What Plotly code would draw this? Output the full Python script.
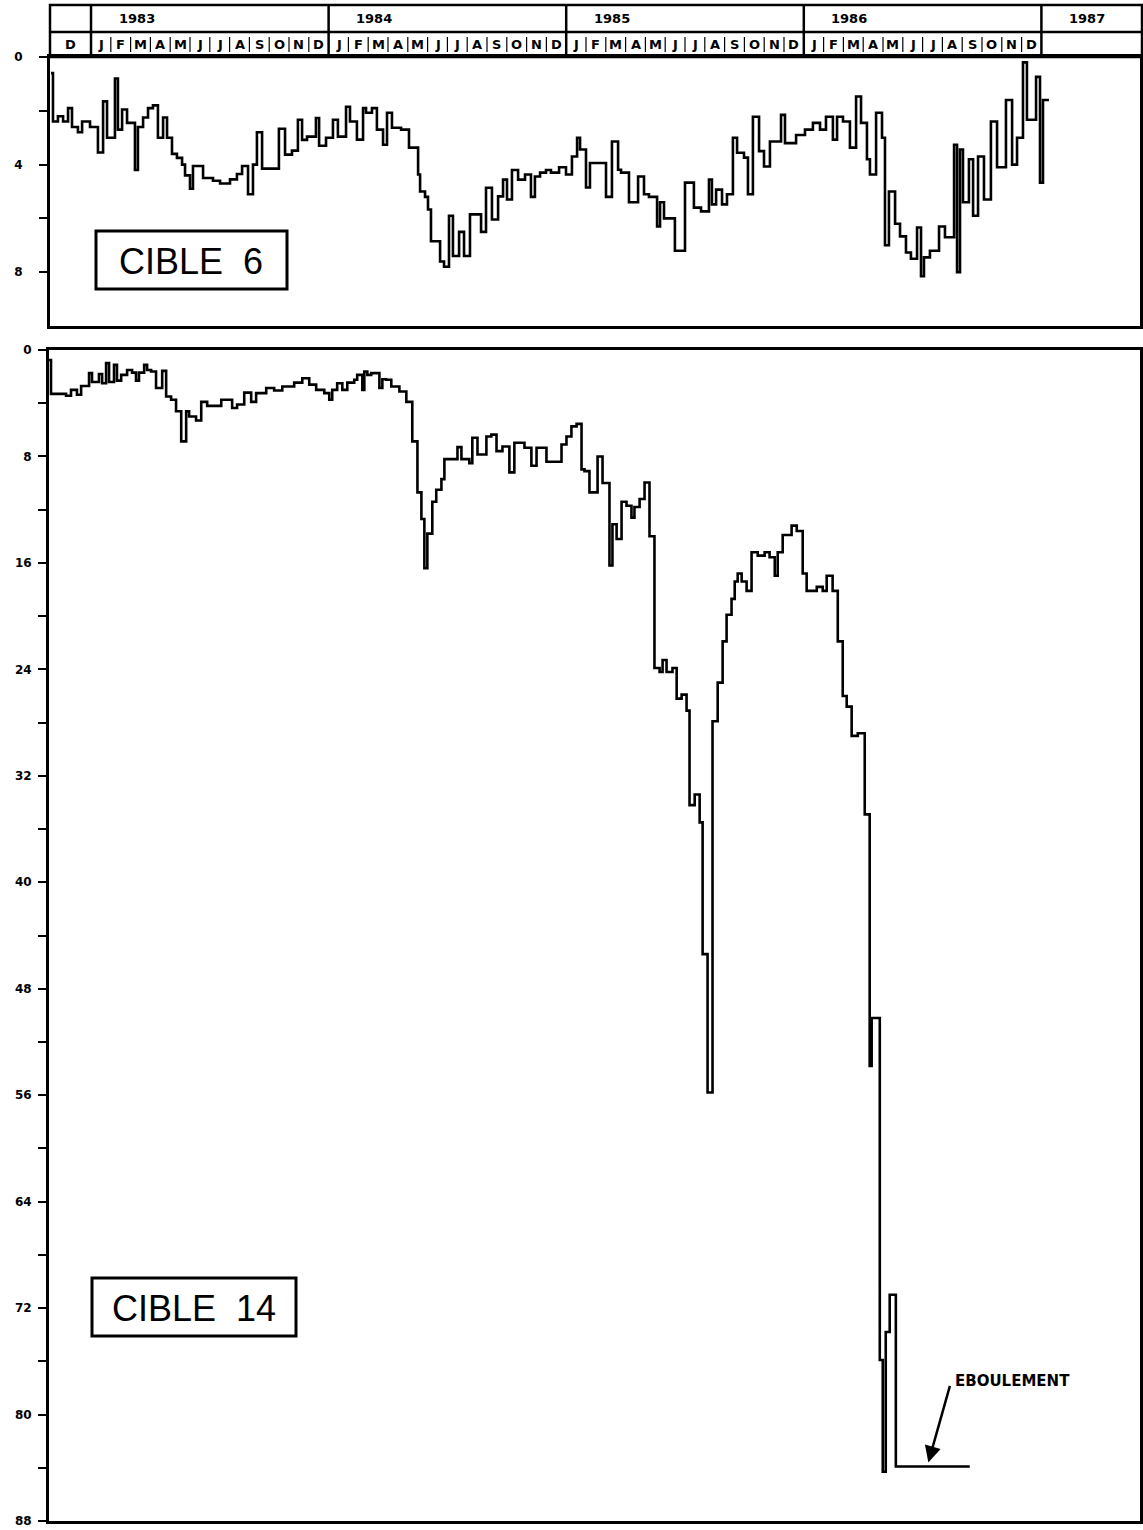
import plotly.graph_objects as go

# ---------------- data ----------------
# time axis: months elapsed since 1 January 1983
t_c6 = [-2.02, -1.92, -1.67, -1.41, -1.16, -0.96, -0.66, -0.45, -0.05, 0.35,
        0.61, 0.81, 1.21, 1.36, 1.57, 1.82, 2.22, 2.37, 2.63, 2.88,
        3.13, 3.38, 3.64, 3.84, 4.09, 4.34, 4.60, 4.75, 5.00, 5.15,
        5.66, 6.16, 6.52, 7.02, 7.37, 7.63, 7.93, 8.18, 8.38, 8.64,
        9.49, 9.80, 10.15, 10.45, 10.66, 10.91, 11.36, 11.52, 11.87, 12.22,
        12.47, 12.88, 13.08, 13.43, 13.74, 13.89, 14.19, 14.44, 14.75, 14.95,
        15.20, 15.66, 16.06, 16.52, 16.62, 16.87, 17.02, 17.17, 17.63, 17.83,
        18.08, 18.28, 18.59, 18.84, 19.14, 19.70, 19.95, 20.25, 20.56, 20.81,
        21.01, 21.26, 21.57, 21.92, 22.22, 22.42, 22.68, 22.98, 23.23, 23.64,
        23.99, 24.29, 24.55, 24.70, 25.00, 25.20, 26.01, 26.31, 26.62, 26.77,
        27.17, 27.63, 27.93, 28.18, 28.59, 28.74, 28.94, 29.49, 30.00, 30.45,
        30.81, 31.21, 31.36, 31.57, 31.87, 32.12, 32.42, 32.63, 32.98, 33.18,
        33.43, 33.74, 33.99, 34.29, 34.85, 35.05, 35.61, 36.06, 36.46, 36.82,
        37.12, 37.47, 37.68, 37.98, 38.33, 38.64, 38.89, 39.19, 39.34, 39.65,
        39.95, 40.10, 40.30, 40.61, 40.86, 41.16, 41.41, 41.72, 41.92, 42.07,
        42.37, 42.83, 43.13, 43.59, 43.74, 43.89, 44.04, 44.34, 44.55, 44.80,
        45.10, 45.45, 45.76, 46.21, 46.52, 46.77, 47.07, 47.27, 47.73, 47.93,
        48.08, 48.38]
v_c6 = [0.6, 2.4, 2.2, 2.4, 1.9, 2.6, 2.8, 2.4, 2.6, 3.55,
        1.65, 3.0, 0.8, 2.7, 1.95, 2.45, 4.2, 2.6, 2.25, 1.9,
        1.8, 3.0, 2.25, 3.0, 3.6, 3.75, 4.0, 4.4, 4.9, 4.05,
        4.5, 4.6, 4.7, 4.55, 4.35, 4.05, 5.1, 4.0, 2.8, 4.15,
        2.67, 3.63, 3.48, 2.33, 3.08, 2.96, 2.27, 3.3, 3.0, 2.33,
        2.96, 1.85, 2.4, 3.07, 1.9, 2.07, 1.9, 2.7, 3.26, 2.07,
        2.63, 2.7, 3.37, 4.37, 5.0, 5.2, 5.67, 6.85, 7.6, 7.8,
        5.9, 7.4, 6.5, 7.4, 5.85, 6.5, 4.86, 6.04, 5.18, 4.56,
        5.3, 4.2, 4.56, 4.37, 5.2, 4.44, 4.3, 4.2, 4.3, 4.1,
        4.37, 3.7, 3.0, 3.44, 4.85, 3.94, 5.2, 3.14, 4.19, 4.3,
        5.4, 4.44, 5.1, 5.2, 6.3, 5.4, 6.0, 7.2, 4.67, 5.6,
        5.74, 4.56, 5.48, 4.93, 5.48, 5.1, 3.0, 3.56, 3.74, 5.1,
        2.22, 3.5, 4.07, 3.14, 2.15, 3.2, 2.9, 2.7, 2.45, 2.7,
        2.22, 3.07, 2.22, 2.4, 3.37, 1.47, 2.45, 3.8, 4.37, 2.07,
        3.0, 7.0, 5.0, 6.2, 6.67, 7.27, 7.5, 6.34, 8.15, 7.45,
        7.2, 6.3, 6.7, 3.26, 8.0, 3.44, 5.4, 3.8, 5.9, 3.7,
        5.3, 2.4, 4.1, 1.6, 4.0, 3.0, 0.2, 2.33, 0.74, 4.67,
        1.6, 1.6]

t_c14 = [-2.07, -1.97, -1.21, -0.96, -0.66, -0.45, -0.05, 0.10, 0.45, 0.61,
         0.81, 0.96, 1.21, 1.36, 1.57, 1.87, 2.12, 2.32, 2.47, 2.73,
         2.88, 3.08, 3.33, 3.64, 3.84, 4.09, 4.34, 4.60, 4.85, 5.00,
         5.35, 5.61, 5.91, 6.62, 7.17, 7.42, 7.78, 8.13, 8.38, 8.89,
         9.29, 9.70, 10.30, 10.71, 11.06, 11.41, 11.82, 12.07, 12.22, 12.47,
         12.73, 12.98, 13.33, 13.48, 13.74, 13.84, 13.99, 14.19, 14.60, 14.75,
         14.95, 15.20, 15.61, 15.96, 16.26, 16.52, 16.72, 16.87, 17.02, 17.27,
         17.47, 17.73, 17.88, 18.54, 18.74, 19.14, 19.29, 19.55, 20.00, 20.25,
         20.51, 20.81, 21.16, 21.41, 21.92, 22.27, 22.53, 23.03, 23.79, 24.04,
         24.29, 24.55, 24.80, 24.95, 25.20, 25.61, 25.86, 26.21, 26.36, 26.57,
         26.82, 27.07, 27.32, 27.47, 27.73, 27.98, 28.23, 28.48, 28.74, 28.89,
         29.09, 29.39, 29.60, 29.85, 30.10, 30.25, 30.51, 30.76, 30.91, 31.16,
         31.41, 31.67, 31.92, 32.12, 32.37, 32.53, 32.68, 32.88, 33.13, 33.38,
         33.69, 34.04, 34.29, 34.55, 34.70, 34.95, 35.40, 35.66, 35.96, 36.16,
         36.67, 36.97, 37.17, 37.47, 37.73, 37.98, 38.18, 38.43, 38.74, 39.09,
         39.34, 39.44, 39.85, 40.00, 40.15, 40.35, 40.66, 44.39]
v_c14 = [0.75, 3.3, 3.44, 3.0, 3.36, 2.7, 1.74, 2.4, 1.8, 2.5,
         0.99, 2.4, 1.12, 2.3, 1.87, 1.5, 1.7, 2.3, 1.7, 1.12,
         1.5, 1.62, 2.86, 1.57, 3.5, 3.74, 4.6, 6.87, 4.6, 5.0,
         5.3, 3.9, 4.2, 3.74, 4.36, 4.1, 3.2, 3.9, 3.24, 2.86,
         3.04, 2.74, 2.45, 2.12, 2.6, 3.0, 3.24, 3.74, 3.0, 2.5,
         3.0, 2.45, 2.24, 1.87, 3.0, 1.62, 1.87, 1.74, 2.86, 2.2,
         2.24, 2.74, 3.12, 3.9, 6.87, 10.7, 12.7, 16.4, 13.8, 11.4,
         10.5, 9.7, 8.2, 7.3, 8.2, 8.5, 6.6, 7.85, 6.5, 6.36,
         7.6, 7.25, 9.2, 6.97, 7.35, 8.7, 7.35, 8.4, 7.1, 6.5,
         5.74, 5.55, 8.97, 9.1, 10.7, 8.0, 10.0, 16.2, 13.1, 14.2,
         11.4, 11.7, 12.6, 11.8, 11.2, 9.96, 14.0, 23.9, 24.2, 23.3,
         24.2, 23.9, 26.2, 25.9, 27.1, 34.2, 33.4, 35.5, 45.4, 55.8,
         27.9, 25.0, 21.9, 19.9, 18.7, 17.4, 16.8, 17.4, 18.1, 15.2,
         15.45, 15.2, 15.57, 16.96, 15.2, 13.9, 13.2, 13.6, 16.8, 18.1,
         17.8, 18.1, 16.96, 18.1, 21.9, 26.0, 26.8, 29.0, 28.8, 34.9,
         53.8, 50.2, 75.9, 84.3, 73.8, 71.0, 83.9, 83.9]

years = ["1983", "1984", "1985", "1986", "1987"]
year_start = [0, 12, 24, 36, 48]
month_letters = ["J", "F", "M", "A", "M", "J", "J", "A", "S", "O", "N", "D"]
prev_month_letter = "D"   # December 1982

top_ticks = [0, 2, 4, 6, 8]
top_ticktext = ["0", "", "4", "", "8"]
bot_ticks = list(range(0, 89, 4))
bot_ticktext = [str(v) if v % 8 == 0 else "" for v in bot_ticks]

# ---------------- layout helpers ----------------
W, H = 1143, 1530
def fx(px):
    return px / W
def fy(py):
    return 1 - py / H

X_MIN, X_MAX = -2.071, 52.98
BLACK = "black"
tfont = dict(family="DejaVu Sans", size=12, color=BLACK, weight="bold")

fig = go.Figure()
fig.add_trace(go.Scatter(x=t_c6, y=v_c6, mode="lines", line=dict(color=BLACK, width=2.6, shape="hv"),
                         xaxis="x", yaxis="y", showlegend=False, hoverinfo="skip"))
fig.add_trace(go.Scatter(x=t_c14, y=v_c14, mode="lines", line=dict(color=BLACK, width=2.6, shape="hv"),
                         xaxis="x2", yaxis="y2", showlegend=False, hoverinfo="skip"))

axis_common = dict(showgrid=False, zeroline=False, showline=True, mirror=True,
                   linecolor=BLACK, linewidth=3, automargin=False)

fig.update_layout(
    width=W, height=H,
    margin=dict(l=0, r=0, t=0, b=0, pad=0),
    paper_bgcolor="white", plot_bgcolor="white",
    showlegend=False,
    xaxis=dict(domain=[fx(50), fx(1140)], range=[X_MIN, X_MAX], showticklabels=False,
               ticks="", anchor="y", **axis_common),
    yaxis=dict(domain=[fy(326), fy(57)], range=[10, 0], tickvals=top_ticks, ticktext=top_ticktext,
               ticks="outside", ticklen=8, tickwidth=2, tickcolor=BLACK, tickfont=tfont,
               ticklabelstandoff=14, ticklabeloverflow="allow", anchor="x", **axis_common),
    xaxis2=dict(domain=[fx(49), fx(1140)], range=[X_MIN, X_MAX], showticklabels=False,
                ticks="", anchor="y2", **axis_common),
    yaxis2=dict(domain=[fy(1521), fy(350)], range=[88, 0], tickvals=bot_ticks, ticktext=bot_ticktext,
                ticks="outside", ticklen=8, tickwidth=2, tickcolor=BLACK, tickfont=tfont,
                ticklabelstandoff=4, ticklabeloverflow="allow", anchor="x2", **axis_common),
)

shapes = []
annotations = []

def note(**kw):
    kw.setdefault("showarrow", False)
    kw.setdefault("xanchor", "center")
    kw.setdefault("yanchor", "middle")
    annotations.append(dict(**kw))

# ---- header table (years / months) ----
HT, HM, HB = 5, 32, 57
line = dict(color=BLACK, width=2.5)
shapes.append(dict(type="rect", xref="paper", yref="paper", x0=fx(50), x1=fx(1142),
                   y0=fy(HB), y1=fy(HT), line=line))
shapes.append(dict(type="line", xref="paper", yref="paper", x0=fx(50), x1=fx(1142),
                   y0=fy(HM), y1=fy(HM), line=line))
for ys in year_start:
    shapes.append(dict(type="line", xref="x", yref="paper", x0=ys, x1=ys,
                       y0=fy(HB), y1=fy(HT), line=line))
for m in range(1, 48):
    if m % 12:
        shapes.append(dict(type="line", xref="x", yref="paper", x0=m, x1=m,
                           y0=fy(HB - 5), y1=fy(HM + 5), line=dict(color=BLACK, width=1.2)))

hfont_year = dict(family="DejaVu Sans", size=13, color=BLACK, weight="bold")
hfont_month = dict(family="DejaVu Sans", size=13, color=BLACK, weight="bold")
for yl, ys in zip(years, year_start):
    note(text=yl, xref="x", yref="paper", x=ys + 2.3, y=fy((HT + HM) / 2), font=hfont_year)
note(text=prev_month_letter, xref="x", yref="paper", x=(X_MIN + 0) / 2,
     y=fy((HM + HB) / 2), font=hfont_month)
for ys in year_start[:4]:
    for i, ml in enumerate(month_letters):
        note(text=ml, xref="x", yref="paper", x=ys + i + 0.5, y=fy((HM + HB) / 2), font=hfont_month)

# ---- CIBLE labels ----
box_line = dict(color=BLACK, width=3)
cfont = dict(family="Liberation Sans", size=36, color=BLACK)
shapes.append(dict(type="rect", xref="paper", yref="paper", x0=fx(96), x1=fx(287),
                   y0=fy(289), y1=fy(231), line=box_line))
note(text="CIBLE\u00a0\u00a06", xref="paper", yref="paper", x=fx(191), y=fy(261), font=cfont)
shapes.append(dict(type="rect", xref="paper", yref="paper", x0=fx(92), x1=fx(296),
                   y0=fy(1336), y1=fy(1278), line=box_line))
note(text="CIBLE\u00a0\u00a014", xref="paper", yref="paper", x=fx(194), y=fy(1308), font=cfont)

# ---- EBOULEMENT ----
note(text="EBOULEMENT", xref="paper", yref="paper", x=fx(1012), y=fy(1381),
     font=dict(family="DejaVu Sans", size=15, color=BLACK, weight="bold"))
annotations.append(dict(text="", xref="x2", yref="y2", x=42.3, y=83.6, showarrow=True,
                        arrowhead=2, arrowsize=1.3, arrowwidth=2.5, arrowcolor=BLACK,
                        axref="pixel", ayref="pixel", ax=22, ay=-78))

fig.update_layout(shapes=shapes, annotations=annotations)
fig.write_html("out.html", config={"displayModeBar": False},
               post_script="document.body.style.margin='0';document.body.style.overflow='hidden';")
